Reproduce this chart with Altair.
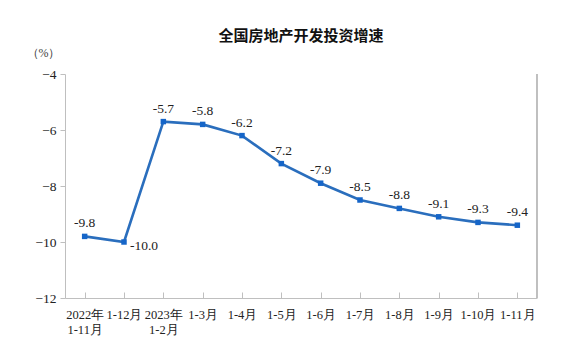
import altair as alt
import pandas as pd

categories = ["2022年\n1-11月", "1-12月", "2023年\n1-2月", "1-3月", "1-4月", "1-5月",
              "1-6月", "1-7月", "1-8月", "1-9月", "1-10月", "1-11月"]
values = [-9.8, -10.0, -5.7, -5.8, -6.2, -7.2, -7.9, -8.5, -8.8, -9.1, -9.3, -9.4]
y_ticks = [-12, -10, -8, -6, -4]

df = pd.DataFrame({"cat": categories, "val": values, "idx": range(len(values))})
df["label"] = df["val"].map(lambda v: f"{v:.1f}")

W, H = 472, 224
LINE = "#2a6ebd"
SERIF = "'Liberation Serif', 'Times New Roman', serif"

x = alt.X("cat:N", sort=categories, title=None,
          scale=alt.Scale(paddingInner=0, paddingOuter=0),
          axis=alt.Axis(labelAngle=0, labelExpr="split(datum.label, '\\n')",
                        labelFont=SERIF, labelFontSize=12.5, labelColor="#222",
                        labelLineHeight=15, labelPadding=16, labelBaseline="top",
                        domainColor="#bfbfbf", tickColor="#bfbfbf", tickSize={"expr": "-6"},
                        bandPosition=0, grid=False))
y = alt.Y("val:Q", title="（%）",
          scale=alt.Scale(domain=[-12, -4], nice=False),
          axis=alt.Axis(values=y_ticks, labelFont=SERIF, labelFontSize=13.5, labelColor="#222",
                        domainColor="#bfbfbf", tickColor="#bfbfbf", tickSize=5, labelPadding=4,
                        grid=False, titleAngle=0, titleX=-22, titleY=-22,
                        titleFont=SERIF, titleFontSize=12, titleFontWeight="normal",
                        titleColor="#444", titleAlign="center", titleBaseline="middle"))

base = alt.Chart(df)
line = base.mark_line(color=LINE, strokeWidth=2.6).encode(x=x, y=y)
pts = base.mark_square(color="#1565c8", size=30, opacity=1).encode(x=x, y=y)
lab = base.transform_filter("datum.idx != 1").mark_text(
    font=SERIF, fontSize=13.5, color="#222", dy=-13).encode(x=x, y=y, text="label:N")
lab2 = base.transform_filter("datum.idx == 1").mark_text(
    font=SERIF, fontSize=13.5, color="#222", dx=20, dy=4).encode(x=x, y=y, text="label:N")
right = alt.Chart(df).mark_rule(color="#bfbfbf").encode(
    x=alt.value(W), y=alt.value(0), y2=alt.value(H))

chart = alt.layer(line, pts, lab, lab2, right).properties(
    width=W, height=H,
    title=alt.TitleParams("全国房地产开发投资增速", font="Noto Sans CJK SC", fontSize=15,
                          fontWeight="bold", color="#111", anchor="middle", offset=2),
    autosize=alt.AutoSizeParams(type="none"),
    padding={"left": 57, "top": 66, "right": 30, "bottom": 40},
).configure_view(stroke=None)

chart.save("out.html", embed_options={"renderer": "svg", "actions": False})
